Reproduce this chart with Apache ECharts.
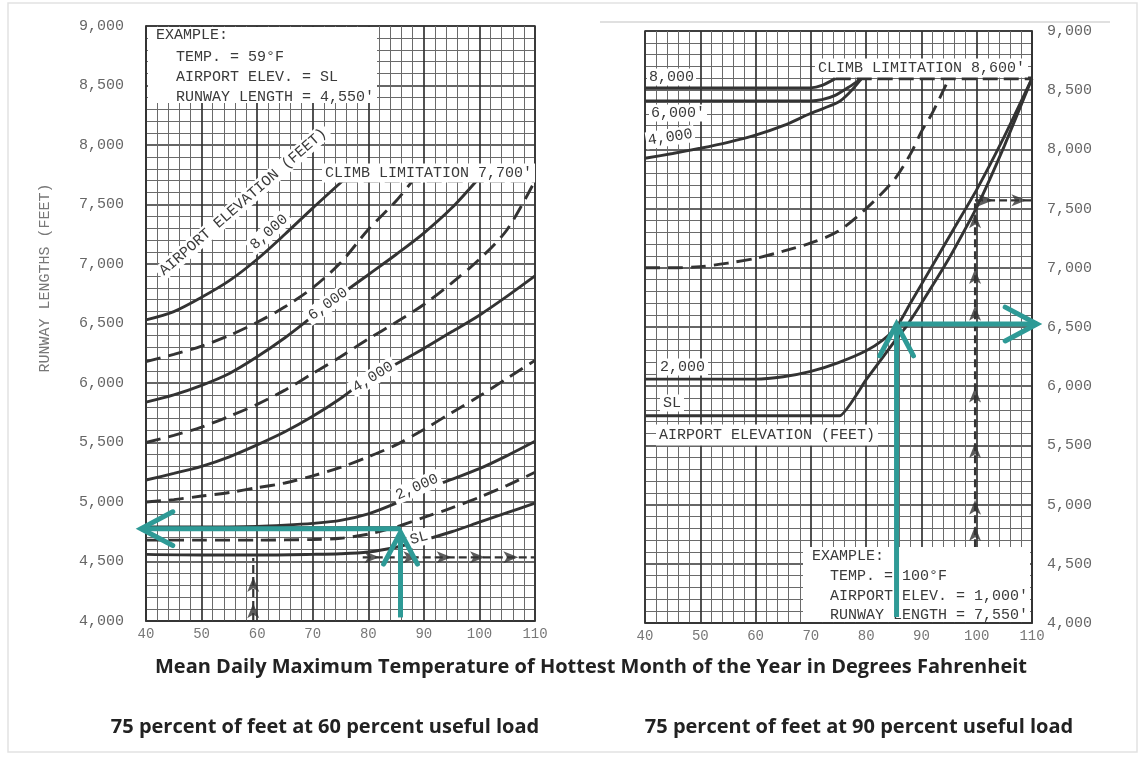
<!DOCTYPE html>
<html><head><meta charset="utf-8">
<script src="https://cdn.jsdelivr.net/npm/echarts@6.0.0/dist/echarts.min.js"></script>
<style>html,body{margin:0;padding:0;background:#fff}#c{width:1144px;height:757px}</style>
</head><body><div id="c"></div>
<script>
// ---------- tick values ----------
const xTicks = [40, 50, 60, 70, 80, 90, 100, 110];
const yTicks = [4000, 4500, 5000, 5500, 6000, 6500, 7000, 7500, 8000, 8500, 9000];

// ---------- left panel: 75 percent at 60 percent useful load ----------
const left8000 = [[40,6530],[45,6600],[50,6720],[55,6860],[60,7040],[65,7250],[70,7470],[75.4,7700]];
const left7000 = [[40,6180],[45,6240],[50,6310],[55,6400],[60,6510],[65,6640],[70,6800],[75,7010],[80,7290],[85,7530],[88,7700]];
const left6000 = [[40,5840],[45,5900],[50,5980],[55,6080],[60,6220],[65,6380],[70,6560],[75,6740],[80,6910],[85,7080],[90,7260],[95,7470],[99.5,7700]];
const left5000 = [[40,5500],[45,5560],[50,5630],[55,5720],[60,5820],[65,5940],[70,6080],[75,6220],[80,6370],[85,6510],[90,6660],[95,6840],[100,7040],[105,7290],[110,7700]];
const left4000 = [[40,5185],[45,5240],[50,5300],[55,5380],[60,5480],[65,5590],[70,5720],[75,5870],[80,6040],[85,6160],[90,6290],[95,6430],[100,6570],[105,6730],[110,6900]];
const left3000 = [[40,5000],[45,5020],[50,5050],[55,5080],[60,5120],[65,5160],[70,5220],[75,5290],[80,5380],[85,5480],[90,5610],[95,5750],[100,5890],[105,6040],[110,6190]];
const left2000 = [[40,4790],[50,4790],[60,4795],[65,4805],[70,4820],[75,4845],[80,4900],[85,4990],[90,5100],[95,5190],[100,5280],[105,5390],[110,5510]];
const left1000 = [[40,4680],[50,4680],[60,4680],[70,4685],[75,4695],[80,4730],[85,4790],[90,4870],[95,4950],[100,5040],[105,5140],[110,5250]];
const leftSL   = [[40,4560],[50,4555],[60,4555],[70,4560],[75,4565],[80,4580],[85,4620],[90,4680],[95,4750],[100,4830],[105,4910],[110,4990]];
const leftClimb = [[75.4,7700],[110,7700]];
const leftExampleUp = [[59.3,4000],[59.3,4530]];
const leftExampleUpHeads = [[59.3,4150],[59.3,4370]];
const leftExampleRight = [[79,4535],[110,4535]];
const leftExampleRightHeads = [[82,4535],[89,4535],[95,4535],[101,4535],[107,4535]];
const leftTeal = [[85.8,4030,85.8,4745],[85.8,4776,39.1,4776]];

// ---------- right panel: 75 percent at 90 percent useful load ----------
const right8000 = [[40,8520],[50,8520],[60,8520],[70,8520],[72,8540],[74.5,8600]];
const right6000 = [[40,8410],[50,8410],[60,8410],[70,8410],[72,8420],[74.4,8456],[77,8530],[79.2,8600]];
const right4000 = [[40,7925],[45,7965],[50,8010],[55,8060],[60,8120],[65,8200],[70,8305],[75,8400],[77,8480],[79.2,8600]];
const rightDashed = [[40,7000],[45,7000],[50,7010],[55,7040],[60,7080],[65,7140],[70,7210],[75,7310],[80,7500],[85,7740],[88,7960],[90,8150],[92,8310],[95,8600]];
const right2000 = [[40,6060],[50,6060],[60,6060],[65,6080],[70,6125],[75,6200],[80,6300],[83,6390],[85.5,6500],[88,6700],[92,7020],[96,7340],[100,7660],[105,8110],[110,8600]];
const rightSL   = [[40,5750],[50,5750],[60,5750],[70,5750],[75.2,5750],[80,6055],[85,6370],[87.2,6500],[90,6700],[95,7080],[100,7510],[105,8030],[110,8600]];
const rightClimb = [[74.5,8600],[110,8600]];
const rightExampleUp = [[99.7,4640],[99.7,7550]];
const rightExampleUpHeads = [[99.7,4820],[99.7,5040],[99.7,5520],[99.7,5990],[99.7,6680],[99.7,6990],[99.7,7460]];
const rightExampleRight = [[99.7,7570],[110,7570]];
const rightExampleRightHeads = [[103,7570],[109,7570]];
const rightTeal = [[85.5,4050,85.5,6525],[86.1,6525,110.9,6525]];

// ---------- styling ----------
const INK = '#333';
const TEAL = '#2e9a96';
const MONO = '"Liberation Mono", "DejaVu Sans Mono", monospace';

const chart = echarts.init(document.getElementById('c'));

function xAxisCfg(gi) {
  return {
    gridIndex: gi, type: 'value', min: xTicks[0], max: xTicks[xTicks.length-1], interval: 10,
    axisLine: {show: true, onZero: false, lineStyle: {color: '#333', width: 1.5}},
    axisTick: {show: false},
    axisLabel: {margin: 6, color: '#777', fontFamily: MONO, fontSize: 14},
    splitLine: {show: true, lineStyle: {color: '#333', width: 1.7}},
    minorTick: {show: false, splitNumber: 5},
    minorSplitLine: {show: true, lineStyle: {color: '#6a6a6a', width: 1}}
  };
}
function yAxisCfg(gi, pos, margin) {
  return {
    gridIndex: gi, type: 'value', position: pos, min: yTicks[0], max: yTicks[yTicks.length-1], interval: 500,
    axisLine: {show: true, onZero: false, lineStyle: {color: '#333', width: 1.5}},
    axisTick: {show: false},
    axisLabel: {margin: margin, color: '#666', fontFamily: MONO, fontSize: 15,
      formatter: v => v.toLocaleString('en-US')},
    splitLine: {show: true, lineStyle: {color: '#333', width: 1.7}},
    minorTick: {show: false, splitNumber: 5},
    minorSplitLine: {show: true, lineStyle: {color: '#6a6a6a', width: 1}}
  };
}

function curve(data, gi, dashed, smooth) {
  return {type: 'line', xAxisIndex: gi, yAxisIndex: gi, data: data, showSymbol: false, silent: true,
    smooth: smooth, z: 3, animation: false,
    lineStyle: {color: INK, width: 2.9, type: dashed ? [15, 8] : 'solid'}};
}
function climb(data, gi) {
  return {type: 'line', xAxisIndex: gi, yAxisIndex: gi, data: data, showSymbol: false, silent: true, z: 3,
    animation: false, lineStyle: {color: INK, width: 3.6, type: [15, 6]}};
}
function exStem(data, gi) {
  return {type: 'line', xAxisIndex: gi, yAxisIndex: gi, data: data, showSymbol: false, silent: true, z: 4,
    animation: false, lineStyle: {color: INK, width: 2.2, type: [8, 4]}};
}
function exHeads(data, gi, rot) {
  return {type: 'scatter', xAxisIndex: gi, yAxisIndex: gi, data: data, symbol: 'arrow', symbolSize: [9, 15],
    symbolRotate: rot, silent: true, z: 5, animation: false, itemStyle: {color: INK}};
}
function tealRender(params, api) {
  const p1 = api.coord([api.value(0), api.value(1)]);
  const p2 = api.coord([api.value(2), api.value(3)]);
  const dx = p2[0] - p1[0], dy = p2[1] - p1[1];
  const len = Math.hypot(dx, dy);
  const bx = -dx / len, by = -dy / len;
  const L = 36, a = 28 * Math.PI / 180, c = Math.cos(a), s = Math.sin(a);
  const a1 = [p2[0] + L * (bx * c - by * s), p2[1] + L * (bx * s + by * c)];
  const a2 = [p2[0] + L * (bx * c + by * s), p2[1] + L * (-bx * s + by * c)];
  return {type: 'group', children: [
    {type: 'polyline', shape: {points: [p1, p2]}, style: {stroke: TEAL, lineWidth: 5, fill: null}},
    {type: 'polyline', shape: {points: [a1, p2, a2]}, style: {stroke: TEAL, lineWidth: 5, fill: null, lineCap: 'round', lineJoin: 'miter'}}
  ]};
}
function teal(data, gi) {
  return {type: 'custom', xAxisIndex: gi, yAxisIndex: gi, data: data, renderItem: tealRender,
    encode: {x: [0, 2], y: [1, 3]}, clip: false, silent: true, z: 100, animation: false};
}

function txt(text, x, y, opt) {
  opt = opt || {};
  return {type: 'text', x: x, y: y, rotation: (opt.rot || 0) * Math.PI / 180, z: 50, silent: true,
    style: {text: text, fontFamily: opt.family || MONO, fontSize: opt.size || 15, fontWeight: opt.weight || 'normal',
      fill: opt.color || '#3a3a3a', align: opt.align || 'left', verticalAlign: 'middle',
      backgroundColor: opt.bg === false ? null : '#fff', padding: opt.pad || [1, 3]}};
}
function box(x, y, w, h) {
  return {type: 'rect', z: 49, silent: true, shape: {x: x, y: y, width: w, height: h}, style: {fill: '#fff'}};
}

const CAP = '"Open Sans", sans-serif';
const graphics = [
  {type: 'rect', z: 0, silent: true, shape: {x: 8, y: 3, width: 1129, height: 749}, style: {fill: null, stroke: '#e2e2e2', lineWidth: 1.5}},
  {type: 'line', z: 0, silent: true, shape: {x1: 600, y1: 22, x2: 1110, y2: 22}, style: {stroke: '#d6d6d6', lineWidth: 1.5}},
  // left panel annotations
  box(148, 27, 229, 76),
  txt('EXAMPLE:', 153, 35, {bg: false}),
  txt('TEMP. = 59°F', 173, 57, {bg: false}),
  txt('AIRPORT ELEV. = SL', 173, 77, {bg: false}),
  txt("RUNWAY LENGTH = 4,550'", 173, 97, {bg: false}),
  txt('AIRPORT ELEVATION (FEET)', 243, 202, {align: 'center', rot: 41}),
  txt('8,000', 269, 232, {align: 'center', rot: 42}),
  txt("CLIMB LIMITATION 7,700'", 322, 173, {pad: [2, 3]}),
  txt('6,000', 328, 304, {align: 'center', rot: 36}),
  txt('4,000', 373, 377, {align: 'center', rot: 32}),
  txt('2,000', 417, 487, {align: 'center', rot: 24}),
  txt('SL', 419, 538, {align: 'center', rot: 15}),
  txt('RUNWAY LENGTHS (FEET)', 45, 278, {align: 'center', rot: 90, color: '#777', size: 15, bg: false}),
  // right panel annotations
  txt("CLIMB LIMITATION 8,600'", 815, 68, {pad: [2, 3]}),
  txt('8,000', 647, 77, {pad: [1, 2]}),
  txt("6,000'", 649, 113, {pad: [1, 2]}),
  txt('4,000', 646, 141, {rot: 9, pad: [1, 2]}),
  txt('2,000', 657, 367, {pad: [1, 3]}),
  txt('SL', 660, 403, {pad: [1, 3]}),
  txt('AIRPORT ELEVATION (FEET)', 656, 435, {pad: [3, 3]}),
  box(803, 547, 227, 75),
  txt('EXAMPLE:', 809, 556, {bg: false}),
  txt('TEMP. = 100°F', 827, 576, {bg: false}),
  txt("AIRPORT ELEV. = 1,000'", 827, 596, {bg: false}),
  txt("RUNWAY LENGTH = 7,550'", 827, 615, {bg: false}),
  // captions
  txt('Mean Daily Maximum Temperature of Hottest Month of the Year in Degrees Fahrenheit', 591, 667,
      {align: 'center', family: CAP, size: 20, weight: 'bold', color: '#222', bg: false}),
  txt('75 percent of feet at 60 percent useful load', 325, 727,
      {align: 'center', family: CAP, size: 20, weight: 'bold', color: '#222', bg: false}),
  txt('75 percent of feet at 90 percent useful load', 859, 727,
      {align: 'center', family: CAP, size: 20, weight: 'bold', color: '#222', bg: false})
];

const option = {
  animation: false,
  backgroundColor: '#fff',
  grid: [
    {left: 146, top: 26, width: 389, height: 595, show: true, borderColor: '#333', borderWidth: 1.5, backgroundColor: '#fff'},
    {left: 645, top: 31, width: 387, height: 592, show: true, borderColor: '#333', borderWidth: 1.5, backgroundColor: '#fff'}
  ],
  xAxis: [xAxisCfg(0), xAxisCfg(1)],
  yAxis: [yAxisCfg(0, 'left', 22), yAxisCfg(1, 'right', 15)],
  series: [
    curve(left8000, 0, false, 0.3), curve(left7000, 0, true, 0.3), curve(left6000, 0, false, 0.3),
    curve(left5000, 0, true, 0.3), curve(left4000, 0, false, 0.3), curve(left3000, 0, true, 0.3),
    curve(left2000, 0, false, 0.3), curve(left1000, 0, true, 0.3), curve(leftSL, 0, false, 0.3),
    climb(leftClimb, 0),
    exStem(leftExampleUp, 0), exHeads(leftExampleUpHeads, 0, 0),
    exStem(leftExampleRight, 0), exHeads(leftExampleRightHeads, 0, -90),
    teal(leftTeal, 0),
    curve(right8000, 1, false, 0.2), curve(right6000, 1, false, 0.2), curve(right4000, 1, false, 0.3),
    curve(rightDashed, 1, true, 0.3), curve(right2000, 1, false, 0.2), curve(rightSL, 1, false, 0.15),
    climb(rightClimb, 1),
    exStem(rightExampleUp, 1), exHeads(rightExampleUpHeads, 1, 0),
    exStem(rightExampleRight, 1), exHeads(rightExampleRightHeads, 1, -90),
    teal(rightTeal, 1)
  ],
  graphic: {elements: graphics}
};
chart.setOption(option);
</script>
</body></html>
